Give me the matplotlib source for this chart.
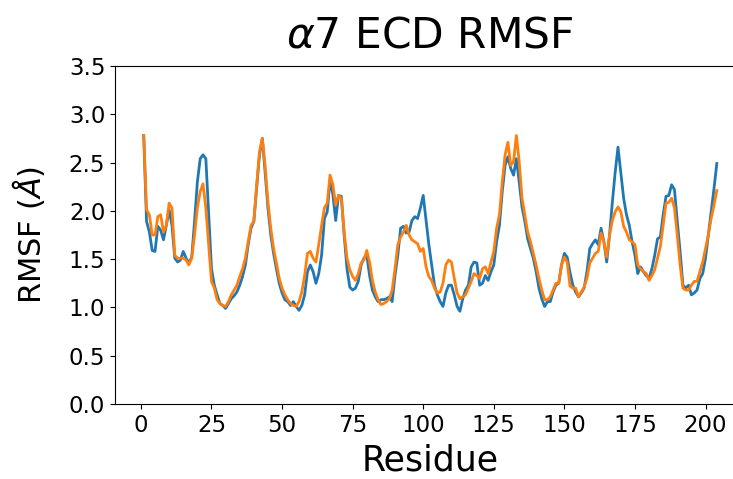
import numpy as np
import matplotlib
matplotlib.use("Agg")
import matplotlib.pyplot as plt

# residue numbers and per-residue RMSF (Angstrom)
residue = np.arange(1, 205)

rmsf_blue = [
    2.78, 1.89, 1.78, 1.59, 1.58, 1.84, 1.80, 1.70, 1.85, 2.01,
    1.85, 1.51, 1.47, 1.49, 1.58, 1.51, 1.46, 1.52, 1.89, 2.30,
    2.54, 2.58, 2.54, 1.96, 1.40, 1.23, 1.13, 1.04, 1.02, 0.99,
    1.04, 1.09, 1.12, 1.16, 1.23, 1.32, 1.44, 1.65, 1.82, 1.89,
    2.23, 2.58, 2.75, 2.40, 2.03, 1.75, 1.56, 1.40, 1.25, 1.15,
    1.08, 1.06, 1.02, 1.06, 1.01, 0.97, 1.02, 1.13, 1.37, 1.44,
    1.37, 1.25, 1.35, 1.54, 1.92, 1.99, 2.32, 2.17, 1.90, 2.16,
    2.15, 1.75, 1.40, 1.21, 1.18, 1.20, 1.27, 1.44, 1.51, 1.54,
    1.33, 1.18, 1.11, 1.06, 1.08, 1.08, 1.09, 1.11, 1.06, 1.33,
    1.54, 1.82, 1.84, 1.77, 1.78, 1.90, 1.94, 1.92, 2.03, 2.16,
    1.90, 1.65, 1.44, 1.23, 1.13, 1.06, 1.01, 1.15, 1.23, 1.23,
    1.13, 1.01, 0.96, 1.09, 1.18, 1.23, 1.42, 1.47, 1.46, 1.23,
    1.25, 1.33, 1.28, 1.37, 1.44, 1.68, 1.85, 2.20, 2.47, 2.56,
    2.44, 2.37, 2.54, 2.30, 2.04, 1.89, 1.71, 1.61, 1.51, 1.37,
    1.20, 1.09, 1.01, 1.06, 1.06, 1.16, 1.23, 1.25, 1.44, 1.56,
    1.52, 1.36, 1.23, 1.16, 1.11, 1.15, 1.20, 1.37, 1.61, 1.66,
    1.70, 1.65, 1.82, 1.68, 1.47, 1.75, 2.09, 2.40, 2.66, 2.40,
    2.13, 1.96, 1.85, 1.68, 1.54, 1.35, 1.42, 1.37, 1.33, 1.30,
    1.40, 1.54, 1.71, 1.73, 1.96, 2.15, 2.16, 2.27, 2.22, 1.89,
    1.58, 1.23, 1.20, 1.23, 1.13, 1.15, 1.18, 1.30, 1.35, 1.51,
    1.75, 1.99, 2.23, 2.49,
]

rmsf_orange = [
    2.78, 2.01, 1.96, 1.75, 1.75, 1.94, 1.96, 1.78, 1.85, 2.08,
    2.03, 1.54, 1.51, 1.51, 1.51, 1.49, 1.44, 1.51, 1.75, 2.03,
    2.20, 2.28, 2.03, 1.65, 1.27, 1.20, 1.08, 1.04, 1.02, 1.01,
    1.06, 1.13, 1.18, 1.23, 1.32, 1.40, 1.51, 1.68, 1.85, 1.89,
    2.27, 2.61, 2.75, 2.47, 2.09, 1.82, 1.61, 1.46, 1.30, 1.20,
    1.13, 1.08, 1.04, 1.02, 1.01, 1.06, 1.16, 1.33, 1.56, 1.58,
    1.51, 1.47, 1.65, 1.85, 2.03, 2.08, 2.37, 2.27, 2.06, 2.16,
    2.13, 1.78, 1.51, 1.39, 1.32, 1.28, 1.35, 1.46, 1.49, 1.59,
    1.47, 1.28, 1.16, 1.08, 1.03, 1.04, 1.06, 1.09, 1.18, 1.40,
    1.65, 1.73, 1.78, 1.85, 1.75, 1.70, 1.68, 1.66, 1.58, 1.61,
    1.42, 1.32, 1.28, 1.20, 1.15, 1.16, 1.25, 1.44, 1.49, 1.47,
    1.30, 1.15, 1.09, 1.11, 1.13, 1.20, 1.27, 1.35, 1.33, 1.30,
    1.40, 1.42, 1.35, 1.47, 1.58, 1.82, 1.96, 2.30, 2.58, 2.71,
    2.47, 2.51, 2.78, 2.51, 2.13, 1.96, 1.78, 1.68, 1.56, 1.44,
    1.30, 1.18, 1.08, 1.08, 1.11, 1.18, 1.25, 1.25, 1.44, 1.52,
    1.47, 1.22, 1.20, 1.20, 1.11, 1.16, 1.21, 1.30, 1.46, 1.51,
    1.56, 1.58, 1.77, 1.68, 1.52, 1.75, 1.90, 1.99, 2.04, 1.99,
    1.84, 1.78, 1.70, 1.68, 1.65, 1.44, 1.40, 1.37, 1.35, 1.28,
    1.33, 1.39, 1.51, 1.63, 1.85, 2.08, 2.09, 2.13, 2.03, 1.75,
    1.44, 1.20, 1.18, 1.18, 1.23, 1.27, 1.27, 1.37, 1.47, 1.61,
    1.75, 1.92, 2.06, 2.21,
]

fig = plt.figure(figsize=(7.33, 4.79), dpi=100)
# the reference is cropped on the right, so the axes run past the figure edge
ax = fig.add_axes([0.157, 0.1566, 0.86, 0.7056])

ax.plot(residue, rmsf_blue, color="tab:blue", lw=2)
ax.plot(residue, rmsf_orange, color="tab:orange", lw=2)

ax.set_ylim(0, 3.5)
ax.set_xlim(-9.15, 214.15)
ax.set_xticks([0, 25, 50, 75, 100, 125, 150, 175, 200])
ax.tick_params(labelsize=16.5)
ax.set_xlabel("Residue", fontsize=25, labelpad=5)
ax.set_ylabel(r"RMSF ($\AA$)", fontsize=22, labelpad=16)
ax.set_title(r"$\alpha$7 ECD RMSF", fontsize=30.5, pad=13)

fig.savefig("out.png", dpi=100)
